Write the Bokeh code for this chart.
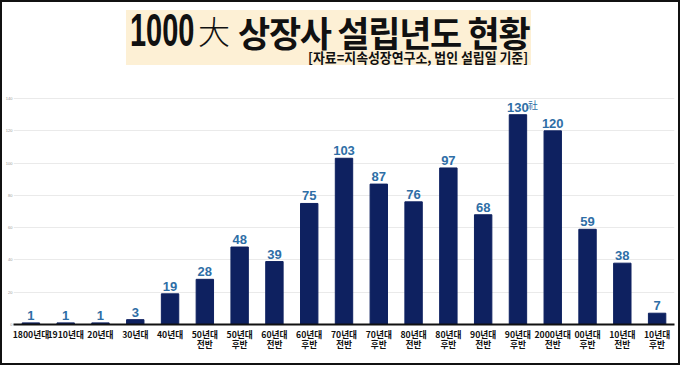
from bokeh.plotting import figure
from bokeh.models import ColumnDataSource, FixedTicker, Range1d, Div
from bokeh.layouts import column
from bokeh.core.properties import value
from bokeh.embed import file_html
from bokeh.resources import INLINE

categories = ["1800년대", "1910년대", "20년대", "30년대", "40년대",
              "50년대\n전반", "50년대\n후반", "60년대\n전반", "60년대\n후반",
              "70년대\n전반", "70년대\n후반", "80년대\n전반", "80년대\n후반",
              "90년대\n전반", "90년대\n후반", "2000년대\n전반", "00년대\n후반",
              "10년대\n전반", "10년대\n후반"]
counts = [1, 1, 1, 3, 19, 28, 48, 39, 75, 103, 87, 76, 97, 68, 130, 120, 59, 38, 7]
units = ["", "", "", "", "", "", "", "", "", "", "", "", "", "", "社", "", "", "", ""]
y_ticks = [0, 20, 40, 60, 80, 100, 120, 140]

title_num = "1000"
title_han = "大"
title_main = "상장사 설립년도 현황"
subtitle = "[자료=지속성장연구소, 법인 설립일 기준]"

NUM_FONT = "Liberation Sans"
KR_FONT = "Noto Sans CJK KR"

src = ColumnDataSource(dict(cat=categories, n=counts,
                            lab=[str(v) for v in counts], unit=units))

p = figure(x_range=categories, y_range=Range1d(0, 145), width=676, height=283,
           output_backend="svg", toolbar_location=None,
           min_border_left=8, min_border_right=4, min_border_top=10, min_border_bottom=39)
p.outline_line_color = None
p.background_fill_color = "white"

p.vbar(x="cat", top="n", width=0.5, source=src, color="#0E2160")
p.text(x="cat", y="n", text="lab", source=src, text_align="center",
       text_baseline="bottom", y_offset=-3, text_color="#2E6EA6",
       text_font=value(NUM_FONT), text_font_style="bold", text_font_size="13px")
p.text(x="cat", y="n", text="unit", source=src, text_align="left",
       text_baseline="bottom", x_offset=10, y_offset=-3, text_color="#2E6EA6",
       text_font=value(KR_FONT), text_font_size="10px")

p.yaxis.ticker = FixedTicker(ticks=y_ticks)
p.yaxis.axis_line_color = None
p.yaxis.major_tick_line_color = None
p.yaxis.minor_tick_line_color = None
p.yaxis.major_tick_out = 0
p.yaxis.major_tick_in = 0
p.yaxis.minor_tick_out = 0
p.yaxis.major_label_text_font_size = "4px"
p.yaxis.major_label_text_color = "#999999"
p.yaxis.major_label_standoff = 1
p.ygrid.grid_line_color = "#EAEAEA"
p.xgrid.grid_line_color = None

p.xaxis.axis_line_color = "#111111"
p.xaxis.axis_line_width = 2
p.xaxis.major_tick_line_color = None
p.xaxis.minor_tick_line_color = None
p.xaxis.major_tick_out = 0
p.xaxis.major_tick_in = 0
p.xaxis.major_label_text_font = KR_FONT
p.xaxis.major_label_text_font_style = "bold"
p.xaxis.major_label_text_font_size = "8.7px"
p.xaxis.major_label_text_color = "#111111"
p.xaxis.major_label_standoff = 3
p.xaxis.major_label_text_line_height = 0.78

html = f"""
<div style="position:relative;width:676px;height:78px;margin:0;padding:0;">
  <div style="position:absolute;left:124px;top:8px;width:405px;height:55px;background:#FDF0D5;"></div>
  <div style="position:absolute;left:128px;top:6px;font-family:'{NUM_FONT}';font-weight:bold;font-size:46px;line-height:44px;color:#111;transform:scaleX(0.63);transform-origin:left top;white-space:nowrap;">{title_num}</div>
  <div style="position:absolute;left:196px;top:10px;font-family:'{KR_FONT}';font-weight:300;font-size:32px;line-height:36px;color:#111;white-space:nowrap;">{title_han}</div>
  <div style="position:absolute;left:236px;top:14px;font-family:'{KR_FONT}';font-weight:bold;font-size:35px;line-height:31px;color:#111;white-space:nowrap;letter-spacing:-1.3px;">{title_main}</div>
  <div style="position:absolute;right:150px;top:47px;font-family:'{KR_FONT}';font-weight:bold;font-size:14px;line-height:16px;color:#111;white-space:nowrap;transform:scaleX(0.92);transform-origin:right top;">{subtitle}</div>
</div>
"""
div = Div(text=html, width=676, height=78, styles={"margin": "0", "padding": "0"})

layout = column(div, p, spacing=0,
                styles={"border": "2px solid #111111", "background": "white"})

open("out.html", "w").write(file_html(layout, INLINE))
